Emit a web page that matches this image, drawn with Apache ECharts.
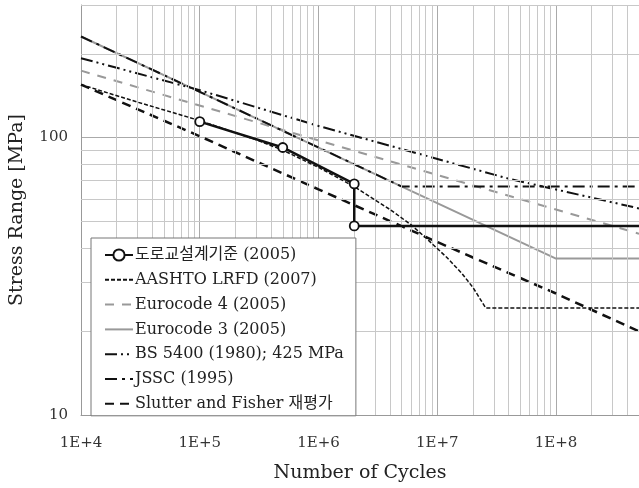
<!DOCTYPE html>
<html>
<head>
<meta charset="utf-8">
<script src="https://cdn.jsdelivr.net/npm/echarts@6/dist/echarts.min.js"></script>
<style>html,body{margin:0;padding:0;background:#fff;}#c{width:639px;height:488px;}</style>
</head>
<body>
<div id="c"></div>
<script>
// ---- data ----
const seriesNames = ['도로교설계기준 (2005)', 'AASHTO LRFD (2007)', 'Eurocode 4 (2005)', 'Eurocode 3 (2005)', 'BS 5400 (1980); 425 MPa', 'JSSC (1995)', 'Slutter and Fisher 재평가'];
const roadN = [1e5, 5e5, 2e6, 2e6, 5e8];
const roadS = [114, 92, 68, 48, 48];
const aashtoN = [1e4, 3e4, 1e5, 3e5, 5e5, 1e6, 2e6, 4e6, 6e6, 8e6, 1.2e7, 1.6e7, 2e7, 2.56e7, 5e8];
const aashtoS = [155, 134, 115, 98, 90, 78, 66.5, 55, 48.5, 43.5, 37, 32.5, 28.8, 24.3, 24.3];
const ec4N = [1e4, 1e6, 5e8];
const ec4S = [174, 97.5, 45];
const ec3N = [1e4, 1e5, 2e6, 1e8, 5e8];
const ec3S = [231, 146, 80, 36.6, 36.6];
const bsN = [1e4, 1e5, 1e6, 4e7, 5e8];
const bsS = [193, 148, 110, 71, 55.5];
const jsscN = [1e4, 1e5, 5e6, 5e8];
const jsscS = [231, 146, 66.6, 66.6];
const slutterN = [1e4, 1e5, 1e6, 1e7, 1e8, 5e8];
const slutterS = [155, 101, 65, 42, 27.4, 20];
// axis ranges and grid tick values
const xRange = [1e4, 5e8];
const yRange = [10, 300];
const xDecades = [1e4, 1e5, 1e6, 1e7, 1e8];
const yDecades = [10, 100];
const minorMult = [2, 3, 4, 5, 6, 7, 8, 9];

const FONT = "'DejaVu Serif', 'Noto Sans CJK KR', serif";
function pairs(xs, ys) { return xs.map((x, i) => [x, ys[i]]); }

const xMinor = [], yMinor = [];
xDecades.forEach(d => minorMult.forEach(m => { const v = d * m; if (v <= xRange[1]) xMinor.push(v); }));
yDecades.forEach(d => minorMult.forEach(m => { const v = d * m; if (v <= yRange[1]) yMinor.push(v); }));

const roadData = pairs(roadN, roadS).map((p, i) => i === roadN.length - 1 ? { value: p, symbol: 'none' } : p);

const legendData = seriesNames.map((n, i) => i === 0 ? { name: n } : { name: n, itemStyle: { opacity: 0 } });

const chart = echarts.init(document.getElementById('c'), null, { renderer: 'canvas' });
chart.setOption({
  animation: false,
  backgroundColor: '#fff',
  grid: { left: 80, right: 0, top: 5, bottom: 68, containLabel: false },
  xAxis: {
    type: 'log', logBase: 10, min: xRange[0], max: xRange[1],
    name: 'Number of Cycles', nameLocation: 'middle', nameGap: 49,
    nameTextStyle: { fontFamily: FONT, fontSize: 19, color: '#222' },
    axisLine: { show: true, lineStyle: { color: '#999', width: 1 } },
    axisTick: { show: false },
    axisLabel: {
      fontFamily: FONT, fontSize: 15, color: '#333', margin: 21, showMaxLabel: false,
      formatter: v => { const e = Math.round(Math.log10(v)); return Math.abs(Math.log10(v) - e) < 1e-6 ? '1E+' + e : ''; }
    },
    splitLine: { show: true, lineStyle: { color: '#aaa', width: 1 } }
  },
  yAxis: {
    type: 'log', logBase: 10, min: yRange[0], max: yRange[1],
    name: 'Stress Range [MPa]', nameLocation: 'middle', nameGap: 54,
    nameTextStyle: { fontFamily: FONT, fontSize: 19, color: '#222' },
    axisLine: { show: true, lineStyle: { color: '#999', width: 1 } },
    axisTick: { show: false },
    axisLabel: {
      fontFamily: FONT, fontSize: 15, color: '#333', margin: 13, showMaxLabel: false,
      formatter: v => { const e = Math.log10(v); return Math.abs(e - Math.round(e)) < 1e-6 ? String(Math.round(v)) : ''; }
    },
    splitLine: { show: true, lineStyle: { color: '#aaa', width: 1 } }
  },
  legend: {
    data: legendData,
    orient: 'vertical', left: 91, top: 238,
    backgroundColor: '#fff', borderColor: '#777', borderWidth: 1,
    padding: [9, 12, 4, 13],
    itemWidth: 28, itemHeight: 14, itemGap: 8.8,
    textStyle: { fontFamily: FONT, fontSize: 16, color: '#222', padding: [0, 0, 0, -3] },
    z: 10
  },
  series: [
    {
      name: '_grid', type: 'line', data: [[xRange[0], yRange[0]]], symbol: 'none',
      lineStyle: { opacity: 0 }, silent: true, z: 1,
      markLine: {
        silent: true, symbol: ['none', 'none'], label: { show: false },
        lineStyle: { color: '#c8c8c8', width: 1, type: 'solid' },
        emphasis: { disabled: true },
        data: xMinor.map(v => ({ xAxis: v })).concat(yMinor.map(v => ({ yAxis: v })))
      }
    },
    {
      name: seriesNames[6], type: 'line', data: pairs(slutterN, slutterS), symbol: 'none',
      lineStyle: { color: '#111', width: 2.5, type: [9, 6] }, itemStyle: { color: '#111' }, z: 3
    },
    {
      name: seriesNames[2], type: 'line', data: pairs(ec4N, ec4S), symbol: 'none',
      lineStyle: { color: '#999', width: 2, type: [9, 8] }, itemStyle: { color: '#999' }, z: 3
    },
    {
      name: seriesNames[3], type: 'line', data: pairs(ec3N, ec3S), symbol: 'none',
      lineStyle: { color: '#999', width: 2, type: 'solid' }, itemStyle: { color: '#999' }, z: 3
    },
    {
      name: seriesNames[4], type: 'line', data: pairs(bsN, bsS), symbol: 'none',
      lineStyle: { color: '#111', width: 2, type: [12, 4, 2, 4, 2, 4] }, itemStyle: { color: '#111' }, z: 4
    },
    {
      name: seriesNames[5], type: 'line', data: pairs(jsscN, jsscS), symbol: 'none',
      lineStyle: { color: '#111', width: 2, type: [12, 5, 3, 5] }, itemStyle: { color: '#111' }, z: 4
    },
    {
      name: seriesNames[1], type: 'line', data: pairs(aashtoN, aashtoS), symbol: 'none',
      lineStyle: { color: '#111', width: 1.5, type: [4, 2] }, itemStyle: { color: '#111' }, z: 5
    },
    {
      name: seriesNames[0], type: 'line', data: roadData,
      symbol: 'circle', symbolSize: 9, showSymbol: true,
      lineStyle: { color: '#111', width: 2.5 },
      itemStyle: { color: '#fff', borderColor: '#111', borderWidth: 1.8 }, z: 6
    }
  ]
});
</script>
</body>
</html>
